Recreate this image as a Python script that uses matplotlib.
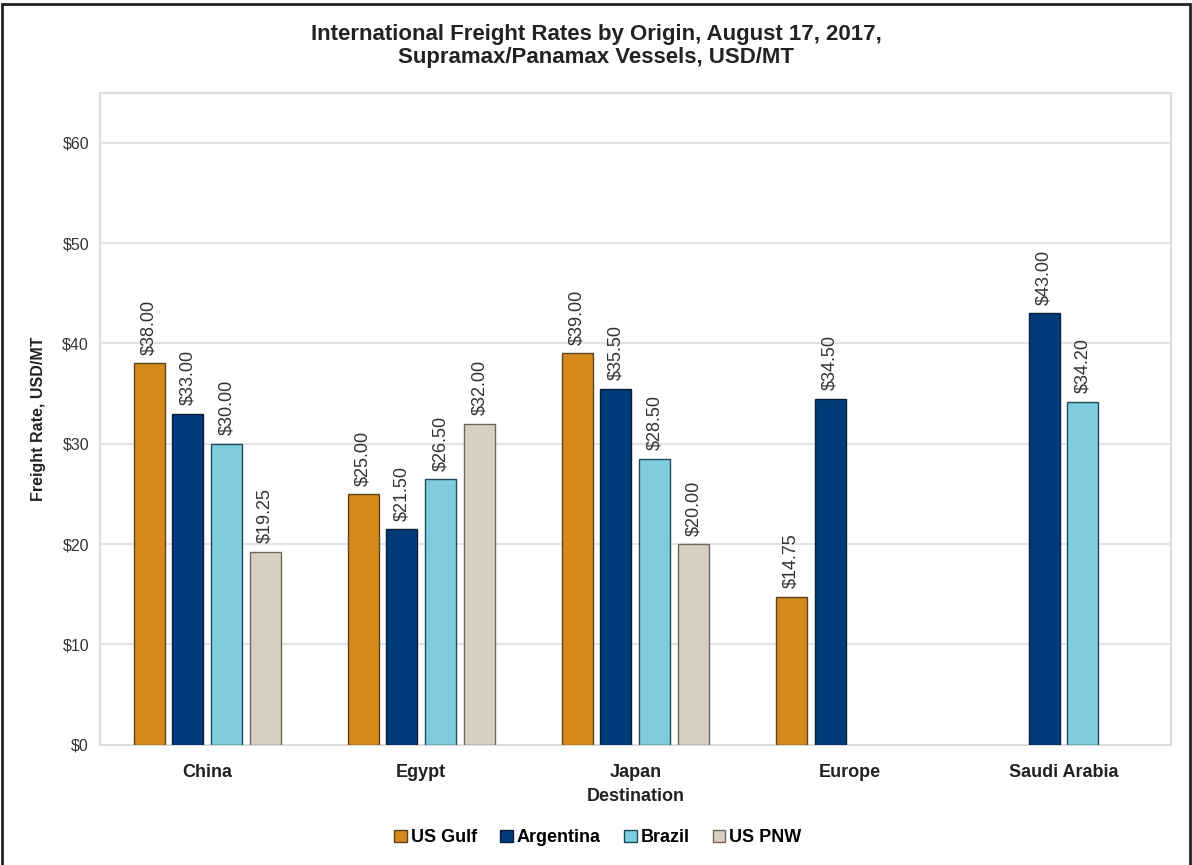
import numpy as np
import matplotlib
matplotlib.use("Agg")
import matplotlib.pyplot as plt
from matplotlib.patches import Rectangle

plt.rcParams['font.family'] = ['Liberation Sans', 'DejaVu Sans']

# Data
destinations = ["China", "Egypt", "Japan", "Europe", "Saudi Arabia"]
us_gulf = [38.00, 25.00, 39.00, 14.75, np.nan]
argentina = [33.00, 21.50, 35.50, 34.50, 43.00]
brazil = [30.00, 26.50, 28.50, np.nan, 34.20]
us_pnw = [19.25, 32.00, 20.00, np.nan, np.nan]

series_names = ["US Gulf", "Argentina", "Brazil", "US PNW"]
series_values = [us_gulf, argentina, brazil, us_pnw]
colors = ["#D5891A", "#023B7A", "#7FCCDF", "#D8CFC0"]
edges = ["#5a4320", "#0c1f3a", "#1f4a57", "#6b665e"]

fig = plt.figure(figsize=(11.92, 8.65), dpi=100)
ax = fig.add_axes([0.084, 0.139, 0.898, 0.754])

x = np.arange(len(destinations))
step = 0.181
width = 0.145

for i, (name, vals) in enumerate(zip(series_names, series_values)):
    pos = x + (i - 1.5) * step
    ax.bar(pos, vals, width, color=colors[i], edgecolor=edges[i],
           linewidth=1.0, label=name, zorder=3)
    for p, v in zip(pos, vals):
        if np.isnan(v):
            continue
        ax.annotate(f"${v:.2f}", (p, v), xytext=(0, 6), textcoords="offset points",
                    rotation=90, ha="center", va="bottom", fontsize=13,
                    color="#333333", zorder=4)

ax.set_xlim(-0.5, len(destinations) - 0.5)
ax.set_ylim(0, 65)
ax.set_yticks(range(0, 61, 10))
ax.set_yticklabels([f"${t}" for t in range(0, 61, 10)], fontsize=11.5, color="#333333")
ax.set_xticks(x)
ax.set_xticklabels(destinations, fontsize=13, fontweight="bold", color="#222222")
ax.tick_params(axis="y", length=0, pad=8)
ax.tick_params(axis="x", length=0, pad=14)
ax.yaxis.grid(True, color="#e3e3e3", linewidth=1.5, zorder=0)
for s in ax.spines.values():
    s.set_color("#dddddd")
    s.set_linewidth(1.5)

ax.set_xlabel("Destination", fontsize=13, fontweight="bold", color="#222222", labelpad=5)
ax.set_ylabel("Freight Rate, USD/MT", fontsize=11.5, fontweight="bold", color="#222222", labelpad=12)

fig.suptitle("International Freight Rates by Origin, August 17, 2017,\nSupramax/Panamax Vessels, USD/MT",
             fontsize=16, fontweight="bold", color="#222222", y=0.972, linespacing=1.1)

ax.legend(loc="upper center", bbox_to_anchor=(0.465, -0.105), ncol=4, frameon=False,
          prop={"weight": "bold", "size": 13}, handlelength=0.7, handleheight=0.7,
          handletextpad=0.2, columnspacing=1.3)

# outer frame around the figure
fig.patches.append(Rectangle((0.002, -0.01), 0.996, 1.005, transform=fig.transFigure,
                             fill=False, edgecolor="#222222", linewidth=2))

fig.savefig("out.png", dpi=100)
